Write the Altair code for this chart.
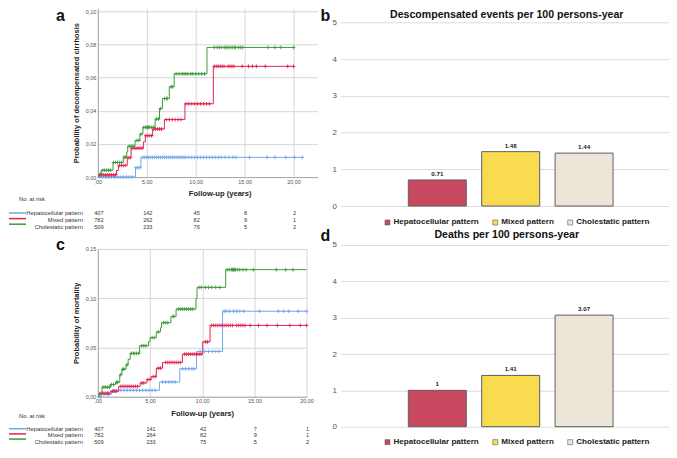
import altair as alt
import pandas as pd

FONT = "Liberation Sans"
SERIES = ["Hepatocellular pattern", "Mixed pattern", "Cholestatic pattern"]
KM_COLORS = ["#6FA8EE", "#E3234F", "#3F9B3A"]
BAR_COLORS = ["#C8485F", "#F9DB4F", "#EEE5D9"]
BAR_STROKE = "#5E5E5E"
ROWS = ["No. at risk", " ", "Hepatocellular pattern", "Mixed pattern", "Cholestatic pattern"]
YEARS = [0, 5, 10, 15, 20]
PLUS = "M0,-1L0,1M-1,0L1,0"

# ---------------- panel a: decompensated cirrhosis ----------------
A_HEP_T = [0, 3.85, 4.4, 20.9]
A_HEP_V = [0, 0.0057, 0.0119, 0.0119]
A_MIX_T = [0, 0.1, 1.9, 2.1, 3.0, 3.4, 4.65, 4.85, 5.6, 6.8, 8.9, 11.8, 20.0]
A_MIX_V = [0, 0.0013, 0.0040, 0.0070, 0.0117, 0.0174, 0.0213, 0.0250, 0.0290, 0.0347, 0.0442, 0.0668, 0.0668]
A_CHO_T = [0, 0.2, 0.35, 1.55, 2.6, 2.95, 3.05, 3.8, 4.3, 4.6, 5.85, 6.3, 6.6, 7.3, 7.8, 11.15, 20.0]
A_CHO_V = [0, 0.0020, 0.0041, 0.0088, 0.0120, 0.0152, 0.0186, 0.0221, 0.0259, 0.0300, 0.0350, 0.0413, 0.0474, 0.0545, 0.0623, 0.0782, 0.0782]

A_HEP_CENS = [0.2, 0.5, 0.8, 1.1, 1.4, 1.7, 2.0, 2.3, 2.6, 2.9, 3.2, 3.5, 3.9, 4.1, 4.3, 4.6, 4.8, 5.0, 5.2, 5.4,
              5.6, 5.8, 6.0, 6.2, 6.4, 6.6, 6.8, 7.0, 7.2, 7.4, 7.6, 7.8, 8.0, 8.2, 8.4, 8.6, 8.8, 9.0, 9.3, 9.6,
              9.9, 10.2, 10.5, 10.8, 11.1, 11.4, 11.7, 12.0, 12.3, 12.6, 13.0, 13.4, 13.8, 14.1, 15.5, 17.3, 18.1,
              19.2, 20.1, 20.9]
A_MIX_CENS = [0.2, 0.4, 0.6, 0.8, 1.0, 1.2, 1.4, 1.6, 1.8, 2.2, 2.4, 2.6, 2.8, 3.1, 3.3, 3.5, 3.7, 3.9, 4.1, 4.3,
              4.5, 4.9, 5.1, 5.3, 5.5, 5.7, 5.9, 6.1, 6.3, 6.5, 7.0, 7.3, 7.6, 7.9, 8.2, 8.5, 9.0, 9.3, 9.6, 9.9,
              10.2, 10.5, 10.8, 11.1, 11.4, 11.9, 12.1, 12.3, 12.5, 12.7, 12.9, 13.3, 13.5, 13.7, 13.9, 14.75,
              15.4, 15.8, 16.2, 17.1, 19.4, 20.0]
A_CHO_CENS = [0.3, 0.5, 0.7, 0.9, 1.1, 1.3, 1.6, 1.8, 2.0, 2.2, 2.4, 2.7, 2.8, 3.2, 3.4, 3.6, 4.0, 4.2, 4.4, 4.7,
              4.9, 5.0, 5.1, 5.2, 5.3, 5.5, 5.7, 6.0, 6.2, 6.4, 6.8, 7.0, 7.1, 7.5, 7.6, 8.0, 8.3, 8.6, 8.8, 9.0,
              9.2, 9.5, 9.7, 10.0, 10.3, 10.6, 10.9, 11.9, 12.2, 12.4, 12.6, 12.9, 13.1, 13.2, 13.4, 13.6, 13.8,
              14.0, 14.1, 14.4, 14.6, 14.8, 17.4, 18.1, 18.7, 20.0]

A_RISK_HEP = [407, 142, 45, 8, 2]
A_RISK_MIX = [782, 262, 82, 9, 1]
A_RISK_CHO = [509, 233, 76, 5, 2]

# ---------------- panel c: mortality ----------------
C_HEP_T = [0, 0.35, 1.3, 2.0, 5.9, 7.85, 9.45, 11.95, 20.0]
C_HEP_V = [0, 0.0025, 0.0057, 0.0065, 0.0150, 0.0284, 0.0460, 0.0868, 0.0868]
C_MIX_T = [0, 0.1, 1.2, 2.0, 4.05, 4.7, 5.1, 5.6, 6.2, 8.1, 10.05, 10.75, 20.0]
C_MIX_V = [0, 0.0035, 0.0057, 0.0105, 0.0140, 0.0175, 0.0205, 0.0290, 0.0348, 0.0432, 0.0557, 0.0724, 0.0724]
C_CHO_T = [0, 0.1, 0.4, 1.2, 1.7, 2.1, 2.3, 2.7, 2.9, 3.1, 4.0, 4.85, 5.0, 5.6, 6.0, 6.1, 7.0, 7.5, 9.4, 9.5,
           12.25, 20.0]
C_CHO_V = [0, 0.0030, 0.0097, 0.0124, 0.0147, 0.0224, 0.0280, 0.0324, 0.0380, 0.0440, 0.0518, 0.0558, 0.0600,
           0.0658, 0.0700, 0.0752, 0.0815, 0.0890, 0.1000, 0.1110, 0.1290, 0.1290]

C_HEP_CENS = [0.2, 0.6, 0.9, 1.1, 1.5, 1.7, 2.2, 2.5, 2.8, 3.1, 3.4, 3.7, 4.0, 4.3, 4.6, 4.9, 5.2, 5.5, 6.2, 6.5,
              6.8, 7.1, 7.4, 8.1, 8.4, 8.7, 9.0, 9.2, 9.8, 10.2, 10.6, 11.0, 11.3, 11.6, 12.1, 12.3, 12.6, 13.0,
              13.3, 13.6, 14.0, 15.5, 17.3, 17.8, 18.3, 19.2, 20.0]
C_MIX_CENS = [0.3, 0.5, 0.7, 0.9, 1.0, 1.4, 1.6, 1.8, 2.2, 2.4, 2.6, 2.8, 3.0, 3.2, 3.4, 3.6, 3.8, 4.2, 4.4, 4.8,
              5.0, 5.3, 5.5, 5.8, 6.0, 6.5, 6.7, 6.9, 7.1, 7.3, 7.5, 7.7, 7.9, 8.3, 8.5, 8.7, 8.9, 9.1, 9.3, 9.5,
              9.7, 9.9, 10.3, 10.5, 10.9, 11.1, 11.3, 11.5, 11.7, 11.9, 12.1, 12.3, 12.5, 12.7, 12.9, 13.3, 13.5,
              13.7, 13.9, 14.1, 14.6, 15.4, 16.2, 17.2, 18.4, 19.4, 20.0]
C_CHO_CENS = [0.2, 0.5, 0.7, 0.9, 1.1, 1.3, 1.5, 1.8, 1.9, 2.2, 2.4, 2.5, 2.8, 3.2, 3.4, 3.5, 3.7, 3.9, 4.2, 4.4,
              4.6, 5.2, 5.4, 5.8, 6.3, 6.5, 6.7, 7.2, 7.3, 7.7, 7.9, 8.1, 8.3, 8.5, 8.7, 8.9, 9.1, 9.7, 9.9, 10.3,
              10.6, 10.9, 11.3, 11.7, 12.4, 12.6, 12.8, 12.9, 13.0, 13.1, 13.2, 13.4, 13.6, 13.9, 14.2, 14.9, 17.1,
              18.0, 18.7]

C_RISK_HEP = [407, 141, 42, 7, 1]
C_RISK_MIX = [782, 264, 82, 9, 1]
C_RISK_CHO = [509, 233, 75, 5, 2]

# ---------------- panels b and d ----------------
B_TITLE = "Descompensated events per 100 persons-year"
B_RATES = [0.71, 1.48, 1.44]
D_TITLE = "Deaths per 100 persons-year"
D_RATES = [1.00, 1.41, 3.07]
RATE_TICKS = [0, 1, 2, 3, 4, 5]


def curve_df(parts):
    frames = [pd.DataFrame({"t": t, "v": v, "series": name}) for name, t, v in parts]
    return pd.concat(frames, ignore_index=True)


def censor_df(parts):
    frames = []
    for name, times, t, v in parts:
        ys = []
        for c in times:
            idx = max(i for i, ti in enumerate(t) if ti <= c)
            ys.append(v[idx])
        frames.append(pd.DataFrame({"t": times, "v": ys, "series": name}))
    return pd.concat(frames, ignore_index=True)


def risk_df(tables):
    rows = []
    for name, counts in tables:
        for yr, n in zip(YEARS, counts):
            rows.append({"t": yr, "row": name, "n": str(n)})
    return pd.DataFrame(rows)


km_color = alt.Scale(domain=SERIES, range=KM_COLORS)


def letter_layer(letter, x, y):
    return alt.Chart(pd.DataFrame({"tag": [letter]})).mark_text(
        font=FONT, fontSize=16, fontWeight="bold", color="#111", align="left", baseline="top").encode(
        x=alt.value(x), y=alt.value(y), text="tag:N")


def km_chart(curves, cens, risk, xmax, ytop, yvals, width, height, ytitle, letter,
             letter_y, row_range, xtitle_x=None):
    xaxis_kw = dict(values=YEARS,
                    labelExpr="datum.value == 0 ? ',00' : replace(format(datum.value, '.2f'), '.', ',')",
                    title="Follow-up (years)", titleFont=FONT, titleFontSize=7.6, titleFontWeight="bold",
                    titleColor="#222", titlePadding=5, labelFont=FONT, labelFontSize=5.5, labelColor="#555",
                    labelPadding=2, labelFlush=False, ticks=False, domainColor="#A8A8A8",
                    gridColor="#D6D6D6")
    if xtitle_x is not None:
        xaxis_kw["titleX"] = xtitle_x
    xscale = alt.Scale(domain=[0, xmax], nice=False, zero=False)
    xenc = alt.X("t:Q", scale=xscale, axis=alt.Axis(**xaxis_kw))
    yscale = alt.Scale(domain=[0, ytop], nice=False)
    yaxis = alt.Axis(values=yvals, labelExpr="replace(format(datum.value, '.2f'), '.', ',')",
                     title=ytitle, titleFont=FONT, titleFontSize=7.5, titleFontWeight="bold",
                     titleColor="#222", titlePadding=5, labelFont=FONT, labelFontSize=5.5,
                     labelColor="#555", labelPadding=2, labelFlush=False, ticks=False,
                     domainColor="#A8A8A8", gridColor="#D6D6D6")
    color = alt.Color("series:N", scale=km_color, legend=None)
    row_scale = alt.Scale(domain=ROWS, range=row_range, padding=0)
    yrow = alt.Y("row:N", scale=row_scale, axis=None)

    lines = alt.Chart(curves).mark_line(interpolate="step-after", strokeWidth=1).encode(
        x=xenc, y=alt.Y("v:Q", scale=yscale, axis=yaxis), color=color)
    marks = alt.Chart(cens).mark_point(shape=PLUS, size=14, strokeWidth=0.9, filled=False, opacity=1).encode(
        x=xenc, y=alt.Y("v:Q", scale=yscale, axis=None), color=color)
    nums = alt.Chart(risk).mark_text(font=FONT, fontSize=5.6, color="#333", dx=1).encode(
        x=xenc, y=yrow, text="n:N")
    lab = pd.DataFrame({"row": SERIES, "series": SERIES})
    labels = alt.Chart(lab).mark_text(font=FONT, fontSize=5.8, color="#333", align="right").encode(
        x=alt.value(-15), y=yrow, text="row:N")
    swatch = alt.Chart(lab).mark_rule(strokeWidth=1.5).encode(
        x=alt.value(-89), x2=alt.value(-72), y=yrow, color=color)
    hdr = alt.Chart(pd.DataFrame({"row": ["No. at risk"]})).mark_text(
        font=FONT, fontSize=5.8, color="#333", align="left").encode(
        x=alt.value(-79), y=yrow, text="row:N")
    tag = letter_layer(letter, -42, letter_y)
    return alt.layer(lines, marks, nums, labels, swatch, hdr, tag).resolve_scale(y="independent").properties(
        width=width, height=height)


def bar_chart(rates, heading, letter, letter_x, ytop, height, legend_y):
    df = pd.DataFrame({"pattern": SERIES, "rate": rates, "label": [f"{r:g}" for r in rates]})
    x = alt.X("pattern:N", scale=alt.Scale(domain=SERIES, paddingInner=0.21, paddingOuter=0.843, align=0.548),
              axis=None)
    y = alt.Y("rate:Q", scale=alt.Scale(domain=[0, ytop], nice=False),
              axis=alt.Axis(values=RATE_TICKS, format="d", title=None, labelFont=FONT,
                            labelFontSize=8, labelColor="#555", labelPadding=4, domain=False, ticks=False,
                            gridColor="#DCDCDC"))
    legend = alt.Legend(orient="none", legendX=43, legendY=legend_y, direction="horizontal", title=None,
                        symbolType="square", symbolSize=25, symbolStrokeColor=BAR_STROKE,
                        symbolStrokeWidth=0.6, labelFont=FONT, labelFontSize=8.1, labelFontWeight="bold",
                        labelColor="#222", labelOffset=2, columnPadding=12, labelLimit=200)
    bars = alt.Chart(df).mark_bar(stroke=BAR_STROKE, strokeWidth=1).encode(
        x=x, y=y, color=alt.Color("pattern:N", scale=alt.Scale(domain=SERIES, range=BAR_COLORS), legend=legend))
    text = alt.Chart(df).mark_text(font=FONT, fontSize=6.2, fontWeight="bold", color="#222",
                                   baseline="alphabetic", dy=-4).encode(x=x, y=y, text="label:N")
    head = alt.Chart(pd.DataFrame({"head": [heading]})).mark_text(
        font=FONT, fontSize=10.6, fontWeight="bold", color="#111", align="center",
        baseline="top").encode(x=alt.value(166.5), y=alt.value(2), text="head:N")
    tag = letter_layer(letter, letter_x, 0)
    return alt.layer(bars, text, head, tag).properties(width=329, height=height)


a_curves = curve_df([(SERIES[0], A_HEP_T, A_HEP_V), (SERIES[1], A_MIX_T, A_MIX_V), (SERIES[2], A_CHO_T, A_CHO_V)])
a_cens = censor_df([(SERIES[0], A_HEP_CENS, A_HEP_T, A_HEP_V), (SERIES[1], A_MIX_CENS, A_MIX_T, A_MIX_V),
                    (SERIES[2], A_CHO_CENS, A_CHO_T, A_CHO_V)])
a_risk = risk_df([(SERIES[0], A_RISK_HEP), (SERIES[1], A_RISK_MIX), (SERIES[2], A_RISK_CHO)])

c_curves = curve_df([(SERIES[0], C_HEP_T, C_HEP_V), (SERIES[1], C_MIX_T, C_MIX_V), (SERIES[2], C_CHO_T, C_CHO_V)])
c_cens = censor_df([(SERIES[0], C_HEP_CENS, C_HEP_T, C_HEP_V), (SERIES[1], C_MIX_CENS, C_MIX_T, C_MIX_V),
                    (SERIES[2], C_CHO_CENS, C_CHO_T, C_CHO_V)])
c_risk = risk_df([(SERIES[0], C_RISK_HEP), (SERIES[1], C_RISK_MIX), (SERIES[2], C_RISK_CHO)])

# plot areas start a few pixels above the top gridline, leaving room for the panel letters
chart_a = km_chart(a_curves, a_cens, a_risk, 22.45, 0.1018, [0, 0.02, 0.04, 0.06, 0.08, 0.10], 220, 169,
                   "Probability of decompensated cirrhosis", "a", 0, [191, 219], xtitle_x=122)
chart_c = km_chart(c_curves, c_cens, c_risk, 20, 0.15, [0, 0.05, 0.10, 0.15], 209, 148,
                   "Probability of mortality", "c", -12, [167, 193])

chart_b = bar_chart(B_RATES, B_TITLE, "b", -20, 5.380, 198, 210)
chart_d = bar_chart(D_RATES, D_TITLE, "d", -20, 5.467, 199, 210)

left = alt.vconcat(chart_a, chart_c, spacing=6)
right = alt.vconcat(chart_b, chart_d, spacing=1).resolve_scale(color="independent").resolve_legend(
    color="independent")

chart = alt.hconcat(left, right, spacing=3).resolve_scale(color="independent").resolve_legend(
    color="independent").properties(padding=0).configure_view(stroke=None)

chart.save("out.html", embed_options={"renderer": "svg", "actions": False})
